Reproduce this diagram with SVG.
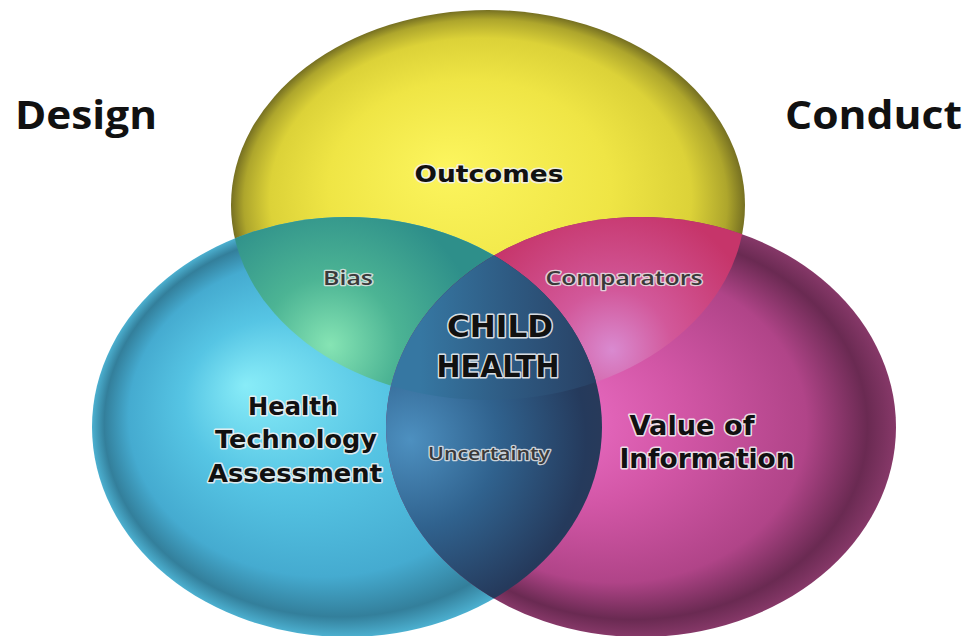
<svg xmlns="http://www.w3.org/2000/svg" width="967" height="636" viewBox="0 0 967 636">
  <style>
    .side { font-family: "Open Sans", "Liberation Sans", sans-serif; font-weight: 700; font-size: 40px; fill: #111; }
    .lbl { font-family: "DejaVu Sans", "Liberation Sans", sans-serif; font-weight: 700; fill: #111; stroke: #f0f0f0; stroke-opacity: 0.9; stroke-width: 3; stroke-linejoin: round; paint-order: stroke; text-anchor: middle; }
    .sub { font-family: "Open Sans", "DejaVu Sans", sans-serif; font-weight: 600; fill: #3a3a3a; stroke: #e6e6e6; stroke-opacity: 0.85; stroke-width: 2.5; stroke-linejoin: round; paint-order: stroke; text-anchor: middle; }
  </style>
  <defs>
    <radialGradient id="gY" cx="0.5" cy="0.5" r="0.5" fx="0.42" fy="0.4">
      <stop offset="0" stop-color="#fcf55e"/>
      <stop offset="0.55" stop-color="#efe545"/>
      <stop offset="0.82" stop-color="#dcd238"/>
      <stop offset="0.94" stop-color="#aea62c"/>
      <stop offset="1" stop-color="#767022"/>
    </radialGradient>
    <radialGradient id="gC" cx="0.5" cy="0.5" r="0.5" fx="0.3" fy="0.4">
      <stop offset="0" stop-color="#88ecf8"/>
      <stop offset="0.4" stop-color="#56c5e4"/>
      <stop offset="0.76" stop-color="#45abd0"/>
      <stop offset="0.92" stop-color="#337f9b"/>
      <stop offset="1" stop-color="#4cb0d0"/>
    </radialGradient>
    <radialGradient id="gM" cx="0.5" cy="0.5" r="0.5" fx="0.3" fy="0.48">
      <stop offset="0" stop-color="#ee70c8"/>
      <stop offset="0.4" stop-color="#d256a6"/>
      <stop offset="0.75" stop-color="#b04488"/>
      <stop offset="0.92" stop-color="#6a2a52"/>
      <stop offset="1" stop-color="#863868"/>
    </radialGradient>
    <radialGradient id="gYC" gradientUnits="userSpaceOnUse" cx="330" cy="345" r="150">
      <stop offset="0" stop-color="#86e4b4"/>
      <stop offset="0.45" stop-color="#4cb494"/>
      <stop offset="1" stop-color="#2e8f8a"/>
    </radialGradient>
    <radialGradient id="gYM" gradientUnits="userSpaceOnUse" cx="612" cy="350" r="150">
      <stop offset="0" stop-color="#d98ad0"/>
      <stop offset="0.4" stop-color="#d2589a"/>
      <stop offset="1" stop-color="#c6356a"/>
    </radialGradient>
    <radialGradient id="gCM" gradientUnits="userSpaceOnUse" cx="410" cy="440" r="220">
      <stop offset="0" stop-color="#4d90c0"/>
      <stop offset="0.4" stop-color="#30628e"/>
      <stop offset="0.8" stop-color="#253a5c"/>
      <stop offset="1" stop-color="#2c3a58"/>
    </radialGradient>
    <linearGradient id="gYCM" gradientUnits="userSpaceOnUse" x1="420" y1="0" x2="600" y2="0">
      <stop offset="0" stop-color="#3677a2"/>
      <stop offset="0.5" stop-color="#2e5a82"/>
      <stop offset="1" stop-color="#283f62"/>
    </linearGradient>
    <clipPath id="clipY"><ellipse cx="488" cy="205" rx="257" ry="195"/></clipPath>
    <clipPath id="clipC"><ellipse cx="347" cy="427" rx="255" ry="210"/></clipPath>
  </defs>

  <rect width="967" height="636" fill="#ffffff"/>

  <g id="outcomes">
    <ellipse cx="488" cy="205" rx="257" ry="195" fill="url(#gY)"/>
  </g>
  <g id="hta">
    <ellipse cx="347" cy="427" rx="255" ry="210" fill="url(#gC)"/>
  </g>
  <g id="voi">
    <ellipse cx="641" cy="427" rx="255" ry="210" fill="url(#gM)"/>
  </g>

  <g id="bias">
    <g clip-path="url(#clipY)"><ellipse cx="347" cy="427" rx="255" ry="210" fill="url(#gYC)"/></g>
  </g>
  <g id="comparators">
    <g clip-path="url(#clipY)"><ellipse cx="641" cy="427" rx="255" ry="210" fill="url(#gYM)"/></g>
  </g>
  <g id="uncertainty">
    <g clip-path="url(#clipC)"><ellipse cx="641" cy="427" rx="255" ry="210" fill="url(#gCM)"/></g>
  </g>
  <g id="child-health">
    <g clip-path="url(#clipY)"><g clip-path="url(#clipC)"><ellipse cx="641" cy="427" rx="255" ry="210" fill="url(#gYCM)"/></g></g>
  </g>

  <g id="labels">
    <text class="side" x="15" y="129" textLength="142" lengthAdjust="spacingAndGlyphs">Design</text>
    <text class="side" x="785" y="129" textLength="177" lengthAdjust="spacingAndGlyphs">Conduct</text>

    <text class="lbl" x="489" y="182" font-size="23" textLength="149" lengthAdjust="spacingAndGlyphs">Outcomes</text>

    <text class="sub" x="348" y="285" font-size="19" textLength="50" lengthAdjust="spacingAndGlyphs">Bias</text>
    <text class="sub" x="624" y="285" font-size="19" textLength="157" lengthAdjust="spacingAndGlyphs">Comparators</text>

    <text class="lbl" x="500" y="337" font-size="31" textLength="106" lengthAdjust="spacingAndGlyphs">CHILD</text>
    <text class="lbl" x="498" y="377" font-size="31" textLength="123" lengthAdjust="spacingAndGlyphs">HEALTH</text>

    <text class="lbl" x="293" y="415" font-size="25" textLength="90" lengthAdjust="spacingAndGlyphs">Health</text>
    <text class="lbl" x="296" y="448" font-size="25" textLength="162" lengthAdjust="spacingAndGlyphs">Technology</text>
    <text class="lbl" x="295" y="482" font-size="25" textLength="174" lengthAdjust="spacingAndGlyphs">Assessment</text>

    <text class="sub" x="489" y="460" font-size="18" textLength="122" lengthAdjust="spacingAndGlyphs">Uncertainty</text>

    <text class="lbl" x="692" y="435" font-size="26" textLength="125" lengthAdjust="spacingAndGlyphs">Value of</text>
    <text class="lbl" x="707" y="468" font-size="26" textLength="175" lengthAdjust="spacingAndGlyphs">Information</text>
  </g>
</svg>
